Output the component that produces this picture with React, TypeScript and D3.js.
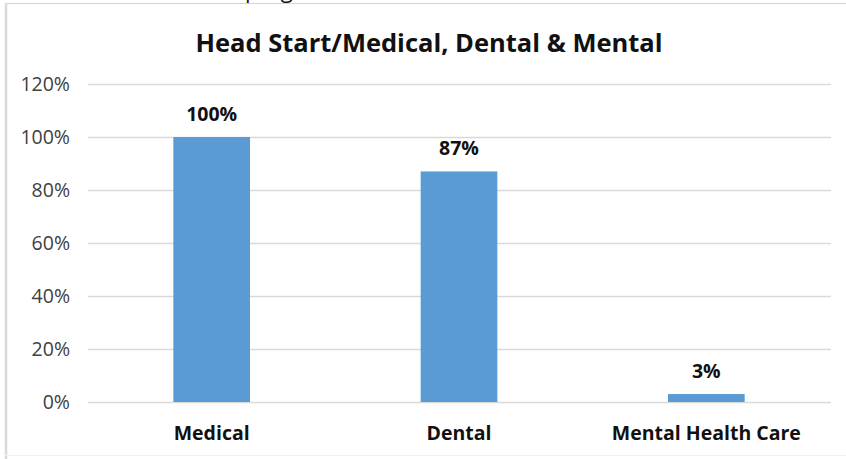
import React, { useEffect, useRef } from 'react';
import * as d3 from 'd3';

const categories = ['Medical', 'Dental', 'Mental Health Care'];
const values = [100, 87, 3];
const yTicks = [0, 20, 40, 60, 80, 100, 120];
const title = 'Head Start/Medical, Dental & Mental';

const App: React.FC = () => {
  const svgRef = useRef<SVGSVGElement>(null);
  const width = 846;
  const height = 459;
  const margin = { top: 84, right: 16, bottom: 57, left: 88 };

  useEffect(() => {
    if (!svgRef.current) return;
    const svg = d3.select(svgRef.current);
    svg.selectAll('*').remove();

    svg.append('rect')
      .attr('width', width)
      .attr('height', height)
      .attr('fill', 'white');

    // clipped text from the page above the chart
    svg.append('text')
      .attr('x', 245)
      .attr('y', -2)
      .attr('font-family', '"Open Sans", sans-serif')
      .attr('font-size', 22)
      .attr('fill', '#111')
      .text('program');

    // chart border
    svg.append('line')
      .attr('x1', 5).attr('x2', width).attr('y1', 3.5).attr('y2', 3.5)
      .attr('stroke', '#d4d4d4').attr('stroke-width', 1);
    svg.append('line')
      .attr('x1', 6).attr('x2', 6).attr('y1', 3).attr('y2', height)
      .attr('stroke', '#dadada').attr('stroke-width', 2.5);
    svg.append('line')
      .attr('x1', 5).attr('x2', width).attr('y1', 455.5).attr('y2', 455.5)
      .attr('stroke', '#f0f0f0').attr('stroke-width', 1);

    const innerWidth = width - margin.left - margin.right;

    const x = d3.scaleBand<string>()
      .domain(categories)
      .range([0, innerWidth])
      .paddingInner(0.69)
      .paddingOuter(0.345);

    const y = d3.scaleLinear()
      .domain([0, 120])
      .range([318, 0]);

    const g = svg.append('g')
      .attr('transform', `translate(${margin.left},${margin.top})`);

    // gridlines
    g.append('g')
      .selectAll('line')
      .data(yTicks)
      .join('line')
      .attr('x1', 0)
      .attr('x2', innerWidth + 1)
      .attr('y1', d => y(d) + 0.5)
      .attr('y2', d => y(d) + 0.5)
      .attr('stroke', '#d9d9d9')
      .attr('stroke-width', 1.5);

    // y labels
    g.append('g')
      .selectAll('text')
      .data(yTicks)
      .join('text')
      .attr('x', -18)
      .attr('y', d => y(d) + 7)
      .attr('text-anchor', 'end')
      .attr('font-family', '"Open Sans", sans-serif')
      .attr('font-size', 19.5)
      .attr('fill', '#404040')
      .text(d => `${d}%`);

    // bars
    g.append('g')
      .selectAll('rect')
      .data(values)
      .join('rect')
      .attr('x', (d, i) => x(categories[i]) as number)
      .attr('y', d => y(d))
      .attr('width', x.bandwidth())
      .attr('height', d => y(0) - y(d))
      .attr('fill', '#5b9bd5');

    // value labels
    g.append('g')
      .selectAll('text')
      .data(values)
      .join('text')
      .attr('x', (d, i) => (x(categories[i]) as number) + x.bandwidth() / 2)
      .attr('y', d => y(d) - 16)
      .attr('text-anchor', 'middle')
      .attr('font-family', '"Open Sans", sans-serif')
      .attr('font-weight', 'bold')
      .attr('font-size', 19.5)
      .attr('fill', '#111')
      .text(d => `${d}%`);

    // category labels
    g.append('g')
      .selectAll('text')
      .data(categories)
      .join('text')
      .attr('x', d => (x(d) as number) + x.bandwidth() / 2)
      .attr('y', y(0) + 38)
      .attr('text-anchor', 'middle')
      .attr('font-family', '"Open Sans", sans-serif')
      .attr('font-weight', 'bold')
      .attr('font-size', 19.5)
      .attr('fill', '#111')
      .text(d => d);

    // title
    svg.append('text')
      .attr('x', 429)
      .attr('y', 52)
      .attr('text-anchor', 'middle')
      .attr('font-family', '"Open Sans", sans-serif')
      .attr('font-weight', 'bold')
      .attr('font-size', 25.5)
      .attr('fill', '#111')
      .text(title);
  }, []);

  return (
    <svg
      ref={svgRef}
      width={width}
      height={height}
      style={{ position: 'absolute', left: 0, top: 0, display: 'block' }}
    />
  );
};

export default App;
